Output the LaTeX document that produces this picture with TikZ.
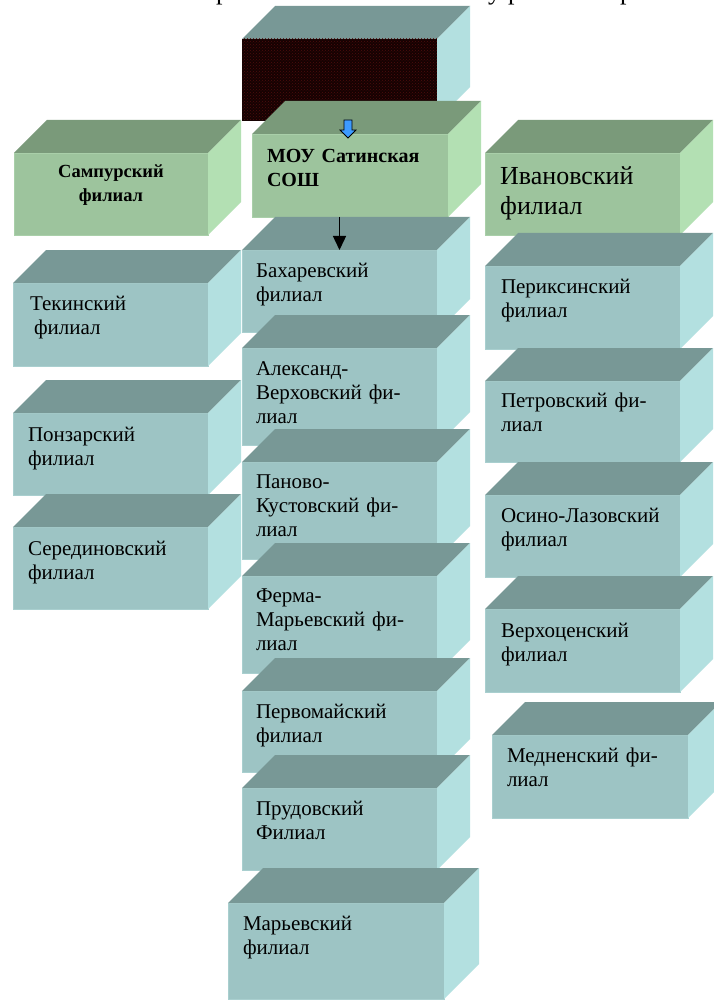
\documentclass[tikz,border=0pt]{standalone}
\usepackage{fontspec}
\setmainfont{Liberation Serif}
\usetikzlibrary{fit,patterns,arrows.meta}
\definecolor{tfront}{HTML}{9DC4C4}
\definecolor{ttop}{HTML}{789896}
\definecolor{tside}{HTML}{B3E0E0}
\definecolor{tedge}{HTML}{A9CFCF}
\definecolor{gfront}{HTML}{9DC49D}
\definecolor{gtop}{HTML}{7A9A7A}
\definecolor{gside}{HTML}{B3E0B3}
\definecolor{gedge}{HTML}{A9CFA9}
\definecolor{dfront}{HTML}{160202}
\definecolor{dtop}{HTML}{789896}
\definecolor{dside}{HTML}{B3E0E0}
\definecolor{dedge}{HTML}{160202}
\definecolor{dots}{HTML}{4F0C0C}
\definecolor{arrowblue}{HTML}{3D9BFF}
% #1 name, #2 x1, #3 y1, #4 x2, #5 y2, #6 palette, #7 depth
\newcommand\isobox[7]{%
  \node[inner sep=0pt, outer sep=0pt, fit={(#2,#3) (#4,#5)}, fill=#6front, draw=#6edge, line width=0.8pt] (#1) {};
  \fill[#6top] (#1.north west) -- ++(#7,-#7) -- ([shift={(#7,-#7)}]#1.north east) -- (#1.north east) -- cycle;
  \fill[#6side] (#1.north east) -- ++(#7,-#7) -- ([shift={(#7,-#7)}]#1.south east) -- (#1.south east) -- cycle;
}
\tikzset{
  btext/.style={anchor=base west, inner sep=0pt, outer sep=0pt, text width=200pt, align=left,
    font=\fontsize{21}{24}\selectfont},
  boldtext/.style={anchor=base west, inner sep=0pt, outer sep=0pt, text width=200pt, align=left,
    font=\fontsize{20}{24}\selectfont\bfseries},
  toptext/.style={anchor=base west, inner sep=0pt, outer sep=0pt, font=\fontsize{26}{30}\selectfont},
  conn/.style={line width=1.4pt, -{Triangle[length=14pt,width=13pt]}}
}
\begin{document}
\begin{tikzpicture}[x=1pt,y=-1pt]
\useasboundingbox (0,0) rectangle (713,1000);
\fill[white] (0,0) rectangle (713,1000);

% clipped title line (only descenders visible)
\node[toptext] (ta) at (216,-0.8) {р};
\node[toptext] (tb) at (488,-0.8) {у};
\node[toptext] (tc) at (508,-0.8) {р};
\node[toptext] (td) at (620,-0.8) {р};

% top dark box
\isobox{box0}{242}{39}{437}{120}{d}{33}
\fill[pattern=crosshatch dots, pattern color=dots] (box0.north west) rectangle (box0.south east);

% green row
\isobox{samp}{14}{153}{208}{235}{g}{33}
\isobox{mou}{252}{134}{448}{217}{g}{33}
\isobox{ivan}{485}{153}{680}{235}{g}{33}

% small blue block arrow on the top face of the main box
\filldraw[fill=arrowblue, draw=black, line width=0.8pt]
  (344,120) -- (352,120) -- (352,130) -- (356,130) -- (348,138) -- (340,130) -- (344,130) -- cycle;

\node[anchor=base, inner sep=0pt, text width=194pt, align=center, font=\fontsize{18.5}{24}\selectfont\bfseries] (samp-t) at (111,178) {Сампурский\\филиал};
\node[boldtext] (mou-t) at (267,163) {МОУ Сатинская\\СОШ};
\node[anchor=base west, inner sep=0pt, text width=200pt, align=left, font=\fontsize{26}{30}\selectfont] (ivan-t) at (500,185) {Ивановский\\филиал};

% left column
\isobox{tekin}{13}{283}{208}{366}{t}{33}
\isobox{ponz}{13}{413}{208}{495}{t}{33}
\isobox{sered}{13}{527}{208}{609}{t}{33}
\node[btext] (tekin-t) at (30,310) {Текинский\\\hspace*{4pt}филиал};
\node[btext] (ponz-t) at (28,441) {Понзарский\\филиал};
\node[btext] (sered-t) at (28,555) {Серединовский\\филиал};

% middle column
\isobox{bah}{242}{250}{437}{332}{t}{33}
\node[btext] (bah-t) at (256,277) {Бахаревский\\филиал};
\isobox{alex}{242}{348}{437}{445}{t}{33}
\node[btext] (alex-t) at (256,375) {Александ-\\Верховский фи-\\лиал};
\isobox{panovo}{242}{462}{437}{559}{t}{33}
\node[btext] (panovo-t) at (256,488) {Паново-\\Кустовский фи-\\лиал};
\isobox{ferma}{242}{576}{437}{673}{t}{33}
\node[btext] (ferma-t) at (256,602) {Ферма-\\Марьевский фи-\\лиал};
\isobox{perv}{242}{691}{437}{772}{t}{33}
\node[btext] (perv-t) at (256,718) {Первомайский\\филиал};
\isobox{prud}{242}{788}{437}{870}{t}{33}
\node[btext] (prud-t) at (256,815) {Прудовский\\Филиал};
\isobox{marev}{228}{903}{444}{999}{t}{35}
\node[btext] (marev-t) at (243,930) {Марьевский\\филиал};

% right column
\isobox{periks}{485}{266}{680}{349}{t}{33}
\node[btext] (periks-t) at (501,293) {Периксинский\\филиал};
\isobox{petr}{485}{381}{680}{462}{t}{33}
\node[btext] (petr-t) at (501,407) {Петровский фи-\\лиал};
\isobox{osino}{485}{495}{680}{577}{t}{33}
\node[btext] (osino-t) at (501,522) {Осино-Лазовский\\филиал};
\isobox{verkh}{485}{609}{680}{692}{t}{33}
\node[btext] (verkh-t) at (501,637) {Верхоценский\\филиал};
\isobox{medn}{492}{735}{688}{818}{t}{33}
\node[btext] (medn-t) at (507,762) {Медненский фи-\\лиал};

% connector
\draw[conn] (bah.north |- mou.south) -- (bah.north);
\end{tikzpicture}
\end{document}
